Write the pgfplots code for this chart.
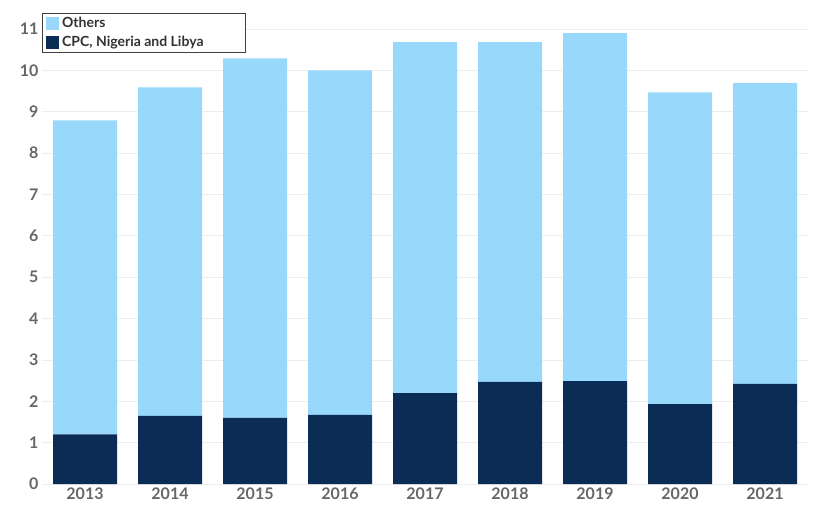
\documentclass[border=0pt]{standalone}
\usepackage{fontspec}
\setmainfont{Lato}
\usepackage{pgfplots}
\pgfplotsset{compat=1.18}
\usetikzlibrary{calc}
\definecolor{others}{HTML}{97D8FB}
\definecolor{cpc}{HTML}{0B2D55}
\definecolor{ticktext}{HTML}{666666}
\definecolor{legtext}{HTML}{333333}

\begin{document}
\begin{tikzpicture}
\begin{axis}[name=ax, scale only axis, width=766pt, height=455pt,
  ybar stacked, bar width=64pt,
  xmin=-0.506, xmax=8.506, ymin=0, ymax=11,
  xtick={0,...,8},
  xticklabels={2013,2014,2015,2016,2017,2018,2019,2020,2021},
  ytick={0,...,11},
  ymajorgrids, major grid style={draw=black!7, line width=0.8pt},
  axis line style={draw=none}, tick style={draw=none},
  tick label style={font=\fontsize{16}{18}\selectfont\bfseries, text=ticktext},
  /pgf/number format/assume math mode=true,
  reverse legend,
  legend cell align=left,
  legend style={at={(0,1.035)}, anchor=north west, draw=black!75,
    font=\fontsize{14}{15}\selectfont\bfseries, text=legtext,
    inner xsep=4pt, inner ysep=3pt, row sep=5pt, column sep=2pt,
    nodes={inner sep=1pt}},
  legend image code/.code={\fill[#1] (0pt,-6.5pt) rectangle (13pt,6.5pt);},
]
% CPC, Nigeria and Libya
\addplot[fill=cpc, draw=none] coordinates {
  (0,1.20) (1,1.65) (2,1.60) (3,1.67) (4,2.20) (5,2.47) (6,2.49) (7,1.93) (8,2.42)};
% Others
\addplot[fill=others, draw=none] coordinates {
  (0,7.59) (1,7.94) (2,8.69) (3,8.33) (4,8.48) (5,8.21) (6,8.41) (7,7.54) (8,7.27)};
\legend{\makebox[178pt][l]{CPC, Nigeria and Libya}, Others}
\end{axis}
\pgfresetboundingbox
\useasboundingbox ($(ax.south west)+(-42pt,-36pt)$) rectangle ($(ax.north east)+(12pt,29pt)$);
\end{tikzpicture}
\end{document}
